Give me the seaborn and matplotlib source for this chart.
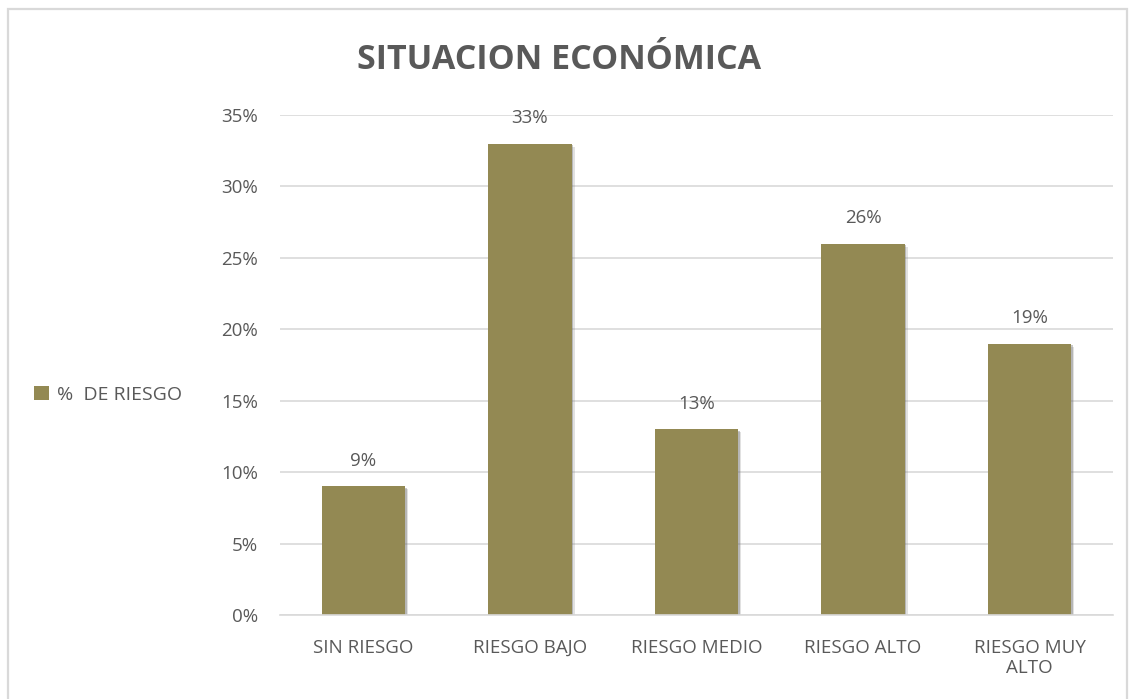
import matplotlib
matplotlib.use("Agg")
import matplotlib.pyplot as plt
import matplotlib.patheffects as pe
from matplotlib.patches import Rectangle
import seaborn as sns
import pandas as pd

categories = ["SIN RIESGO", "RIESGO BAJO", "RIESGO MEDIO", "RIESGO ALTO", "RIESGO MUY\nALTO"]
values = [0.09, 0.33, 0.13, 0.26, 0.19]
series_name = "%  DE RIESGO"
yticks = [0, 0.05, 0.10, 0.15, 0.20, 0.25, 0.30, 0.35]
ytick_labels = ["0%", "5%", "10%", "15%", "20%", "25%", "30%", "35%"]
title = "SITUACION ECONÓMICA"

df = pd.DataFrame({"cat": categories, "val": values, "serie": series_name})

sns.set_theme(style="white")
plt.rcParams["font.family"] = ["Open Sans", "DejaVu Sans"]
txt = "#595959"
bar_color = "#938953"

fig = plt.figure(figsize=(11.31, 6.99), dpi=100)
ax = fig.add_axes([0.2476, 0.1202, 0.7365, 0.7153])

sns.barplot(data=df, x="cat", y="val", hue="serie", palette=[bar_color],
            width=0.5, ax=ax, legend=True, saturation=1, linewidth=0, edgecolor="none")

for p in ax.patches:
    p.set_linewidth(0)
    p.set_edgecolor("none")
    p.set_path_effects([
        pe.SimplePatchShadow(offset=(2.2, -2.2), shadow_rgbFace="#888888", alpha=0.25),
        pe.SimplePatchShadow(offset=(1.2, -1.2), shadow_rgbFace="#666666", alpha=0.35),
        pe.Normal()])

ax.set_ylim(0, 0.35)
ax.set_xlim(-0.5, 4.5)
ax.set_yticks(yticks)
ax.set_yticklabels(ytick_labels)
ax.yaxis.grid(True, color="#d9d9d9", linewidth=1.2)
ax.set_axisbelow(True)
for s in ["top", "right", "left"]:
    ax.spines[s].set_visible(False)
ax.spines["bottom"].set_color("#d9d9d9")
ax.spines["bottom"].set_linewidth(1.2)
ax.tick_params(axis="both", length=0, labelsize=13.5, labelcolor=txt)
ax.tick_params(axis="x", pad=17)
ax.tick_params(axis="y", pad=16)
ax.set_xlabel("")
ax.set_ylabel("")

for i, v in enumerate(values):
    ax.annotate(f"{round(v*100):d}%", (i, v), xytext=(0, 12), textcoords="offset points",
                ha="center", va="bottom", fontsize=13.5, color=txt)

fig.text(0.494, 0.914, title, ha="center", va="center", fontsize=24.5,
         fontweight="bold", color=txt)

leg = ax.legend(loc="center left", bbox_to_anchor=(0.030, 0.435), bbox_transform=fig.transFigure,
                frameon=False, fontsize=14, handlelength=0.75, handleheight=0.75,
                handletextpad=0.45, borderaxespad=0, borderpad=0)
for t in leg.get_texts():
    t.set_color(txt)
for h in leg.legend_handles:
    h.set_path_effects([])
    h.set_linewidth(0)

fig.patches.append(Rectangle((0.0068, -0.01), 0.99, 0.997, transform=fig.transFigure,
                             fill=False, edgecolor="#d9d9d9", linewidth=1.6))

fig.savefig("out.png", dpi=100)
